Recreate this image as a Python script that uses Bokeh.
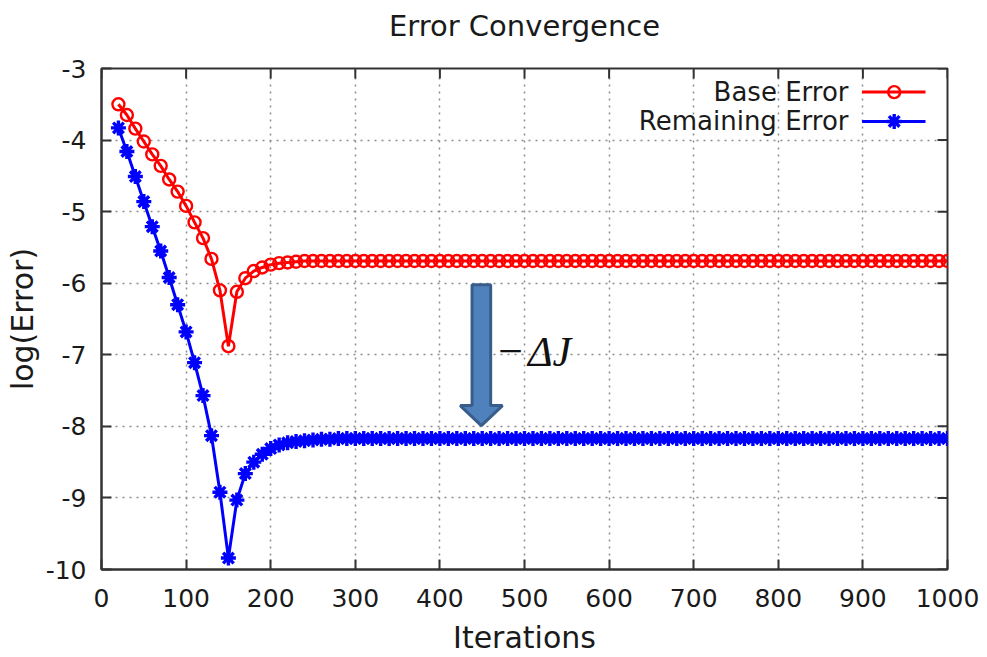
from bokeh.plotting import figure
from bokeh.models import Range1d, Label, FixedTicker, Title
from bokeh.embed import file_html
from bokeh.resources import INLINE

# ---------------- data ----------------
iterations = list(range(20, 1001, 10))

base_error = [
    -3.50, -3.65, -3.84, -4.02, -4.20, -4.36, -4.55, -4.72, -4.92, -5.15,
    -5.37, -5.66, -6.10, -6.88, -6.12, -5.93, -5.83, -5.78, -5.74, -5.72,
    -5.71, -5.70, -5.69, -5.69, -5.69, -5.69, -5.69, -5.69, -5.69, -5.69,
    -5.69, -5.69, -5.69, -5.69, -5.69, -5.69, -5.69, -5.69, -5.69, -5.69,
    -5.69, -5.69, -5.69, -5.69, -5.69, -5.69, -5.69, -5.69, -5.69, -5.69,
    -5.69, -5.69, -5.69, -5.69, -5.69, -5.69, -5.69, -5.69, -5.69, -5.69,
    -5.69, -5.69, -5.69, -5.69, -5.69, -5.69, -5.69, -5.69, -5.69, -5.69,
    -5.69, -5.69, -5.69, -5.69, -5.69, -5.69, -5.69, -5.69, -5.69, -5.69,
    -5.69, -5.69, -5.69, -5.69, -5.69, -5.69, -5.69, -5.69, -5.69, -5.69,
    -5.69, -5.69, -5.69, -5.69, -5.69, -5.69, -5.69, -5.69, -5.69,
]

remaining_error = [
    -3.83, -4.16, -4.51, -4.86, -5.21, -5.55, -5.92, -6.30, -6.68, -7.11,
    -7.57, -8.13, -8.92, -9.84, -9.03, -8.66, -8.50, -8.39, -8.31, -8.26,
    -8.23, -8.21, -8.20, -8.19, -8.18, -8.18, -8.17, -8.17, -8.17, -8.17,
    -8.17, -8.17, -8.17, -8.17, -8.17, -8.17, -8.17, -8.17, -8.17, -8.17,
    -8.17, -8.17, -8.17, -8.17, -8.17, -8.17, -8.17, -8.17, -8.17, -8.17,
    -8.17, -8.17, -8.17, -8.17, -8.17, -8.17, -8.17, -8.17, -8.17, -8.17,
    -8.17, -8.17, -8.17, -8.17, -8.17, -8.17, -8.17, -8.17, -8.17, -8.17,
    -8.17, -8.17, -8.17, -8.17, -8.17, -8.17, -8.17, -8.17, -8.17, -8.17,
    -8.17, -8.17, -8.17, -8.17, -8.17, -8.17, -8.17, -8.17, -8.17, -8.17,
    -8.17, -8.17, -8.17, -8.17, -8.17, -8.17, -8.17, -8.17, -8.17,
]

x_ticks = [0, 100, 200, 300, 400, 500, 600, 700, 800, 900, 1000]
y_ticks = [-10, -9, -8, -7, -6, -5, -4, -3]
y_tick_labels = ["-10", "-9", "-8", "-7", "-6", "-5", "-4", "-3"]

title_text = "Error Convergence"
series_names = ["Base Error", "Remaining Error"]
delta_label = ["\u2212", "\u0394J"]

# ---------------- figure ----------------
FONT = "DejaVu Sans"
TXT = "#1a1a1a"
FRAME = "#333333"
X0, X1, Y0, Y1 = 0, 1000, -10, -3

p = figure(width=987, height=657, output_backend="svg", toolbar_location=None,
           x_range=Range1d(X0, X1), y_range=Range1d(Y0, Y1),
           title=title_text,
           min_border_left=101, min_border_right=40,
           min_border_top=68, min_border_bottom=86)
p.background_fill_color = "white"
p.border_fill_color = "white"
p.outline_line_color = FRAME
p.outline_line_width = 2

p.title.align = "center"
p.title.text_font = FONT
p.title.text_font_style = "normal"
p.title.text_font_size = "29px"
p.title.text_color = TXT
p.title.standoff = 10

# small spacer panel between the title and the frame (keeps title high)
p.add_layout(Title(text=" ", text_font_size="10px", standoff=8,
                   text_color="white"), "above")

for ax, ticks in ((p.xaxis[0], x_ticks), (p.yaxis[0], y_ticks)):
    ax.ticker = FixedTicker(ticks=ticks)
    ax.major_label_text_font = FONT
    ax.major_label_text_font_size = "25px"
    ax.major_label_text_color = TXT
    ax.axis_label_text_font = FONT
    ax.axis_label_text_font_size = "30px"
    ax.axis_label_text_font_style = "normal"
    ax.axis_label_text_color = TXT
    ax.major_tick_in = 10
    ax.major_tick_out = 0
    ax.major_tick_line_color = FRAME
    ax.major_tick_line_width = 2
    ax.minor_tick_line_color = None
    ax.axis_line_color = FRAME
    ax.axis_line_width = 2

p.yaxis.major_label_overrides = {t: s for t, s in zip(y_ticks, y_tick_labels)}
p.xaxis.axis_label = "Iterations"
p.yaxis.axis_label = "log(Error)"
p.xaxis.major_label_standoff = 19
p.xaxis.axis_label_standoff = 10
p.yaxis.major_label_standoff = 15
p.yaxis.axis_label_standoff = 3

# inward ticks on the top and right frame edges
TICK_DX = 11.8   # ~10 px in data units along x
TICK_DY = 0.139  # ~10 px in data units along y
p.segment(x0=x_ticks, y0=[Y1] * len(x_ticks), x1=x_ticks,
          y1=[Y1 - TICK_DY] * len(x_ticks), line_color=FRAME, line_width=2)
p.segment(x0=[X1] * len(y_ticks), y0=y_ticks, x1=[X1 - TICK_DX] * len(y_ticks),
          y1=y_ticks, line_color=FRAME, line_width=2)

for g, ticks in ((p.xgrid[0], x_ticks), (p.ygrid[0], y_ticks)):
    g.ticker = FixedTicker(ticks=ticks)
    g.grid_line_color = "#8c8c8c"
    g.grid_line_dash = "2 5"
    g.grid_line_width = 1.5

# ---------------- series ----------------
p.line(iterations, base_error, line_color="red", line_width=3)
p.scatter(iterations, base_error, marker="circle", size=12,
          line_color="red", fill_color=None, line_width=2.4)

p.line(iterations, remaining_error, line_color="blue", line_width=3)
p.scatter(iterations, remaining_error, marker="asterisk", size=15,
          line_color="blue", line_width=3.4)

# ---------------- arrow annotation (-ΔJ) ----------------
ARROW_XS = [438, 460, 460, 474, 449, 424, 438]
ARROW_YS = [-6.02, -6.02, -7.71, -7.71, -7.99, -7.71, -7.71]
p.patch(ARROW_XS, ARROW_YS, fill_color="#4f81bd", line_color="#385d8a",
        line_width=3)

p.add_layout(Label(x=469, y=-6.96, text=delta_label[0], text_baseline="middle",
                   text_align="left", text_font="Liberation Serif",
                   text_font_size="44px", text_color="#111111"))
p.add_layout(Label(x=504, y=-6.96, text=delta_label[1], text_baseline="middle",
                   text_align="left", text_font="Liberation Serif",
                   text_font_style="italic",
                   text_font_size="42px", text_color="#111111"))

# ---------------- custom legend (text left, sample right) ----------------
LEG_TEXT_X = 883
LEG_LINE_X = [899, 974]
LEG_MARK_X = 937
LEG_Y = [-3.33, -3.74]
leg_colors = ["red", "blue"]
leg_markers = ["circle", "asterisk"]
leg_sizes = [12, 15]
for name, yv, col, mk, sz in zip(series_names, LEG_Y, leg_colors, leg_markers, leg_sizes):
    p.add_layout(Label(x=LEG_TEXT_X, y=yv, text=name, text_align="right",
                       text_baseline="middle", text_font=FONT,
                       text_font_size="26px", text_color=TXT))
    p.line(LEG_LINE_X, [yv, yv], line_color=col, line_width=3)
    p.scatter([LEG_MARK_X], [yv], marker=mk, size=sz, line_color=col,
              fill_color=None, line_width=2.4 if mk == "circle" else 3.4)

open("out.html", "w").write(file_html(p, INLINE))
